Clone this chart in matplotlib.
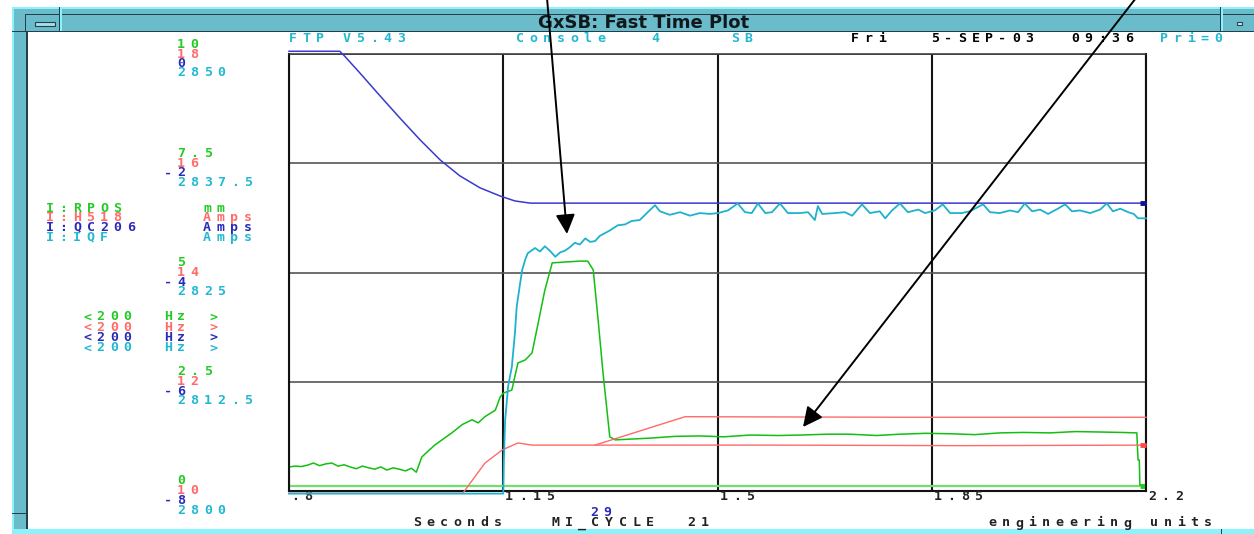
import matplotlib
matplotlib.use('Agg')
import matplotlib.pyplot as plt
from matplotlib.patches import Rectangle
from matplotlib.transforms import offset_copy, blended_transform_factory

# ---- data (seconds vs engineering units) ----
x_ticks = [0.8, 1.15, 1.5, 1.85, 2.2]
x_labels = ['.8', '1.15', '1.5', '1.85', '2.2']

rpos_ticks = ['10', '7.5', '5', '2.5', '0']
h518_ticks = ['18', '16', '14', '12', '10']
qc206_ticks = ['0', '-2', '-4', '-6', '-8']
iqf_ticks = ['2850', '2837.5', '2825', '2812.5', '2800']

names = ['I:RPOS', 'I:H518', 'I:QC206', 'I:IQF']
units = ['mm', 'Amps', 'Amps', 'Amps']

# I:QC206 (blue)
t_qc206 = [0.800, 0.883, 0.891, 0.916, 0.949, 0.981, 1.014, 1.047, 1.079, 1.112, 1.145, 1.169, 1.194, 2.200]
qc206 = [0.05, 0.05, -0.04, -0.35, -0.77, -1.17, -1.57, -1.94, -2.23, -2.45, -2.60, -2.69, -2.73, -2.73]

# I:H518 (red), two overlaid cycles
t_h518_a = [0.800, 1.084, 1.120, 1.148, 1.174, 1.197, 1.300, 1.600, 1.900, 2.200]
h518_a = [9.96, 9.96, 10.51, 10.75, 10.88, 10.84, 10.84, 10.84, 10.83, 10.84]
t_h518_b = [1.300, 1.447, 1.800, 2.200]
h518_b = [10.84, 11.36, 11.35, 11.35]

# I:RPOS (green) reference line and live trace
t_rpos_ref = [0.800, 2.200]
rpos_ref = [0.11, 0.11]
t_rpos = [0.800, 0.810, 0.820, 0.830, 0.840, 0.850, 0.860, 0.870, 0.880, 0.890, 0.900,
          0.910, 0.920, 0.930, 0.940, 0.950, 0.960, 0.970, 0.980, 0.990, 1.000, 1.008,
          1.017, 1.038, 1.066, 1.083, 1.099, 1.109, 1.120, 1.137, 1.145, 1.150, 1.164,
          1.174, 1.186, 1.197, 1.207, 1.218, 1.230, 1.251, 1.275, 1.288, 1.297, 1.305,
          1.313, 1.324, 1.333,
          1.390, 1.430, 1.471, 1.510, 1.553, 1.600, 1.635, 1.680, 1.716, 1.760, 1.798,
          1.840, 1.880, 1.920, 1.962, 2.000, 2.043, 2.085, 2.125, 2.160, 2.185, 2.187,
          2.189, 2.190, 2.200]
rpos = [0.55, 0.57, 0.56, 0.59, 0.64, 0.58, 0.62, 0.64, 0.57, 0.60, 0.55,
        0.51, 0.57, 0.53, 0.50, 0.55, 0.48, 0.53, 0.50, 0.46, 0.52, 0.43,
        0.78, 1.05, 1.33, 1.52, 1.63, 1.56, 1.70, 1.85, 2.15, 2.24, 2.31,
        2.93, 3.00, 3.16, 3.84, 4.60, 5.22, 5.24, 5.26, 5.26, 5.06, 3.91,
        2.70, 1.24, 1.17,
        1.21, 1.25, 1.26, 1.24, 1.28, 1.27, 1.28, 1.30, 1.30, 1.27, 1.30,
        1.32, 1.31, 1.29, 1.33, 1.34, 1.33, 1.36, 1.35, 1.34, 1.33, 0.71,
        0.71, 0.14, 0.09]

# I:IQF (cyan)
t_iqf = [0.800, 1.150, 1.151, 1.153, 1.158, 1.164, 1.169, 1.172, 1.177, 1.181, 1.186, 1.190, 1.202,
         1.210, 1.218, 1.226, 1.235, 1.243, 1.251, 1.259, 1.267, 1.275, 1.284, 1.292, 1.300, 1.308,
         1.324, 1.337, 1.349, 1.360, 1.373, 1.386, 1.398,
         1.406, 1.422, 1.439, 1.455, 1.471, 1.488, 1.501, 1.517, 1.533, 1.545,
         1.556, 1.566, 1.578, 1.589, 1.602, 1.615, 1.635, 1.648, 1.659, 1.664,
         1.671, 1.692, 1.708, 1.720, 1.736, 1.749, 1.765, 1.774, 1.785, 1.798,
         1.811, 1.828, 1.839, 1.855, 1.868, 1.880, 1.899, 1.912, 1.934, 1.945,
         1.961, 1.978, 1.991, 2.002, 2.014, 2.027, 2.040, 2.056, 2.068, 2.079,
         2.092, 2.109, 2.125, 2.136, 2.146, 2.158, 2.171, 2.180, 2.187, 2.190,
         2.200]
iqf = [2799.7, 2799.7, 2803.5, 2808.0, 2812.0, 2814.2, 2818.0, 2821.1, 2823.5, 2825.3, 2826.5, 2827.2, 2827.8,
       2827.4, 2828.0, 2827.5, 2826.8, 2827.3, 2827.5, 2827.9, 2828.4, 2828.2, 2828.9, 2828.5, 2828.6, 2829.2,
       2829.8, 2830.4, 2830.5, 2830.9, 2831.0, 2831.9, 2832.7,
       2832.0, 2831.6, 2831.9, 2831.5, 2831.8, 2831.7, 2831.8, 2832.1, 2832.9, 2831.9,
       2831.8, 2832.9, 2831.8, 2831.9, 2832.9, 2831.8, 2831.8, 2831.9, 2831.0, 2832.6,
       2831.7, 2831.8, 2831.9, 2831.5, 2832.8, 2831.8, 2832.0, 2831.2, 2832.1, 2832.9,
       2831.9, 2832.2, 2831.8, 2832.1, 2832.8, 2831.8, 2831.8, 2832.0, 2832.8, 2831.9,
       2831.8, 2832.1, 2831.9, 2832.9, 2832.0, 2832.2, 2831.7, 2832.3, 2832.8, 2832.0,
       2832.1, 2831.8, 2832.2, 2832.9, 2832.0, 2832.3, 2831.9, 2831.7, 2831.2, 2831.2,
       2831.2]

GREEN = '#22cc22'
RED = '#ff6a6a'
BLUE = '#2a2ab8'
CYAN = '#22b8d2'
MONO = 'DejaVu Sans Mono'
PITCH = 13.5

W, H = 1254, 534
fig = plt.figure(figsize=(W / 100, H / 100), dpi=100)
fig.patch.set_facecolor('white')

# background layer in pixel coords: window frame + text
bg = fig.add_axes([0, 0, 1, 1], zorder=0)
bg.set_xlim(0, W)
bg.set_ylim(H, 0)
bg.axis('off')


def rect(x0, y0, x1, y1, c):
    bg.add_patch(Rectangle((x0, y0), x1 - x0, y1 - y0, facecolor=c, edgecolor='none'))


def spaced(axis, x, y, s, color, tr=None, dx=0, dy=0, size=9.5):
    # terminal style text: every character on a fixed pitch
    tr = axis.transData if tr is None else tr
    for i, ch in enumerate(s):
        if ch == ' ':
            continue
        axis.text(x, y, ch, color=color, fontsize=size, family=MONO, fontweight='bold',
                  ha='left', va='center',
                  transform=offset_copy(tr, fig=fig, x=dx + i * PITCH, y=dy, units='dots'))


MID, LIGHT, DARK = '#6bbccb', '#8ef2fa', '#25404c'
rect(12, 7, W, 32, MID)
rect(12, 7, W, 8.5, LIGHT)
rect(25, 13.5, W, 14.5, DARK)
rect(12, 30.5, W, 32, DARK)
rect(12, 7, 14, H, LIGHT)
rect(14, 8.5, 26, H, MID)
rect(26, 30.5, 28, 529, DARK)
rect(12, 30.5, 26, 31.5, DARK)
rect(12, 513, 26, 514, DARK)
rect(12, 529, W, H, LIGHT)
rect(25, 14, 26, 31, DARK)
rect(59, 7, 60, 31, DARK)
rect(60, 7, 61.5, 31, LIGHT)
rect(1220, 7, 1221, 31, DARK)
rect(1221, 7, 1222.5, 31, LIGHT)
rect(1221, 529, 1222, H, DARK)
bg.add_patch(Rectangle((35, 22), 20, 4, facecolor='#a6dfe8', edgecolor=DARK, lw=0.8))
bg.add_patch(Rectangle((1237, 22), 5, 3, facecolor='#c8eef2', edgecolor=DARK, lw=0.8))
bg.text(644, 23, 'GxSB: Fast Time Plot', fontsize=13, fontweight='bold', family='DejaVu Sans',
        color='#10181c', ha='center', va='center')

# header line
spaced(bg, 289, 38, 'FTP V5.43', CYAN)
spaced(bg, 516, 38, 'Console', CYAN)
spaced(bg, 651, 38, '4', CYAN)
spaced(bg, 731, 38, 'SB', CYAN)
spaced(bg, 851, 38, 'Fri', 'black')
spaced(bg, 931, 38, '5-SEP-03', 'black')
spaced(bg, 1071, 38, '09:36', 'black')
spaced(bg, 1160, 38, 'Pri=0', CYAN)

# legend block
colors = [GREEN, RED, BLUE, CYAN]
for i, (n, u, c) in enumerate(zip(names, units, colors)):
    spaced(bg, 46, 208 + i * 9.7, n, c)
    spaced(bg, 203, 208 + i * 9.7, u, c)
    spaced(bg, 83, 317 + i * 10.3, '<200', c)
    spaced(bg, 164, 317 + i * 10.3, 'Hz', c)
    spaced(bg, 209, 317 + i * 10.3, '>', c)

# bottom line
spaced(bg, 590, 512, '29', BLUE)
spaced(bg, 413, 523, 'Seconds', '#222222')
spaced(bg, 551, 523, 'MI_CYCLE', '#222222')
spaced(bg, 687, 523, '21', '#222222')
spaced(bg, 988, 523, 'engineering units', '#222222')

# plot box
ax = fig.add_axes([289 / W, (H - 491) / H, 857 / W, 437 / H], zorder=1)
ax.set_xlim(0.8, 2.2)
ax.set_ylim(0, 10)
ax.set_xticks(x_ticks)
ax.set_yticks([10, 7.5, 5, 2.5, 0])
ax.tick_params(length=0, labelbottom=False, labelleft=False)
ax.xaxis.grid(True, color='#151515', lw=1.5)
ax.yaxis.grid(True, color='#555555', lw=1.2)
for s in ax.spines.values():
    s.set_color('#111111')
    s.set_linewidth(1.5)
ax.spines['top'].set_color('#333333')
ax.spines['top'].set_linewidth(1.1)


def twin(lo, hi, z):
    t = ax.twinx()
    t.set_ylim(lo, hi)
    t.axis('off')
    t.set_zorder(z)
    return t


ax_r = twin(10, 18, 2)
ax_b = twin(-8, 0, 3)
ax_c = twin(2800, 2850, 4)

ax.plot(t_rpos_ref, rpos_ref, color='#6fe06f', lw=1.6, zorder=2)
ax.plot(t_rpos, rpos, color='#12bf12', lw=1.1, zorder=2)
ax_r.plot(t_h518_a, h518_a, color=RED, lw=1.0, clip_on=False)
ax_r.plot(t_h518_b, h518_b, color=RED, lw=1.0, clip_on=False)
ax_b.plot(t_qc206, qc206, color='#3a3ad0', lw=1.1, clip_on=False)
ax_c.plot(t_iqf, iqf, color='#1fb2cc', lw=1.3, clip_on=False)

# end-of-trace markers at the right edge
ax_b.plot([2.19, 2.2], [qc206[-1]] * 2, color='#10109a', lw=3.5, solid_capstyle='butt', clip_on=False)
ax_r.plot([2.19, 2.2], [h518_a[-1]] * 2, color='#ff4848', lw=3.5, solid_capstyle='butt', clip_on=False)
ax.plot([2.19, 2.2], [rpos_ref[-1]] * 2, color='#22cc22', lw=3.5, solid_capstyle='butt', clip_on=False)

# scale labels to the left of the box, one group per grid line
ytr = blended_transform_factory(bg.transData, ax.transData)
for k, y in enumerate(ax.get_yticks()):
    for lab, c, dy in [(rpos_ticks[k], GREEN, 10), (h518_ticks[k], RED, 0),
                       (qc206_ticks[k], BLUE, -9.5), (iqf_ticks[k], CYAN, -19)]:
        x0 = 177 - (PITCH if lab.startswith('-') else 0)
        spaced(bg, x0, y, lab, c, tr=ytr, dy=dy)

# time tick labels
xtr = ax.get_xaxis_transform()
for v, lab in zip(x_ticks, x_labels):
    spaced(ax, v, 0, lab, '#222222', tr=xtr, dx=2, dy=-6)

# annotation arrows drawn over the screenshot
ov = fig.add_axes([0, 0, 1, 1], zorder=10)
ov.set_xlim(0, W)
ov.set_ylim(H, 0)
ov.axis('off')
arrow = dict(arrowstyle='-|>,head_length=0.85,head_width=0.42', color='black', lw=1.4,
             mutation_scale=14, shrinkA=0, shrinkB=0)
ov.annotate('', xy=(567, 234), xytext=(547, -2), arrowprops=arrow, annotation_clip=False)
ov.annotate('', xy=(803, 427), xytext=(1136, -2), arrowprops=arrow, annotation_clip=False)

fig.savefig('out.png', dpi=100, facecolor='white')
